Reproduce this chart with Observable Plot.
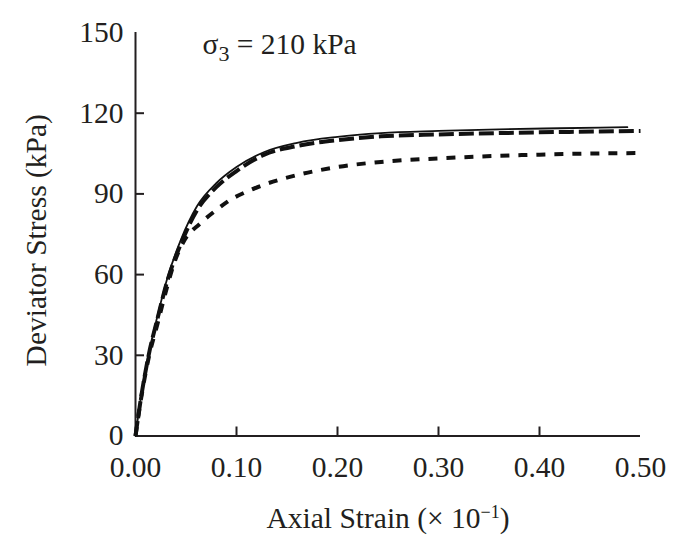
<!DOCTYPE html>
<html><head><meta charset="utf-8">
<script src="https://cdn.jsdelivr.net/npm/d3@7"></script>
<script src="https://cdn.jsdelivr.net/npm/@observablehq/plot@0.6"></script>
<style>body{margin:0;background:#fff}</style>
</head><body><div id="chart"></div>
<script>
// ---- data ----
const xTicks = [0, 0.1, 0.2, 0.3, 0.4, 0.5];
const yTicks = [0, 30, 60, 90, 120, 150];

const solidStrain = [0, 0.006, 0.013, 0.022, 0.031, 0.045, 0.061, 0.08, 0.1, 0.127, 0.16, 0.2, 0.243, 0.3, 0.36, 0.42, 0.487];
const solidStress = [0, 16, 30.5, 45, 58, 73, 85.5, 94, 100, 105.5, 109, 111.2, 112.6, 113.4, 114, 114.4, 114.8];

const longDashStrain = [0, 0.006, 0.013, 0.022, 0.031, 0.045, 0.061, 0.08, 0.1, 0.127, 0.16, 0.2, 0.243, 0.3, 0.36, 0.42, 0.5];
const longDashStress = [0, 15.5, 30, 44, 57, 71.5, 84, 92.5, 98.5, 104.5, 107.8, 110, 111.4, 112.1, 112.6, 113, 113.4];

const shortDashStrain = [0, 0.006, 0.013, 0.022, 0.031, 0.038, 0.048, 0.064, 0.08, 0.094, 0.11, 0.127, 0.16, 0.2, 0.243, 0.3, 0.342, 0.4, 0.45, 0.5];
const shortDashStress = [0, 15, 29, 42, 55, 64, 72.5, 79, 84, 87.8, 90.8, 93.4, 97, 100, 101.9, 103.2, 103.9, 104.6, 105, 105.2];

const xLabel = "Axial Strain (× 10", xLabelSup = "−1", xLabelEnd = ")";
const yLabel = "Deviator Stress (kPa)";
const annotSymbol = "σ", annotSub = "3", annotRest = " = 210 kPa";

// ---- build ----
const toRows = (xs, ys) => xs.map((x, i) => ({x, y: ys[i]}));
const solid = toRows(solidStrain, solidStress);
const longDash = toRows(longDashStrain, longDashStress);
const shortDash = toRows(shortDashStrain, shortDashStress);

const ink = "#231f20";
const FS = 29.5;
const W = 677, H = 549, mL = 135, mR = 37, mT = 32, mB = 113.5;
const frameW = W - mL - mR, frameH = H - mT - mB;

const plot = Plot.plot({
  width: W, height: H,
  marginLeft: mL, marginRight: mR, marginTop: mT, marginBottom: mB,
  style: {fontFamily: "'Liberation Serif', 'Times New Roman', serif", fontSize: FS + "px", color: ink, background: "white"},
  x: {domain: [0, 0.5]},
  y: {domain: [0, 150]},
  marks: [
    Plot.axisX(xTicks, {tickSize: 0, tickPadding: 20, tickFormat: d3.format(".2f"), label: null, fontSize: FS, fill: ink}),
    Plot.axisY(yTicks, {tickSize: 0, tickPadding: 12, label: null, fontSize: FS, fill: ink}),
    Plot.tickX(xTicks.slice(1, -1), {x: d => d, insetTop: frameH - 9, stroke: ink, strokeWidth: 2}),
    Plot.tickY(yTicks.slice(1, -1), {y: d => d, insetRight: frameW - 9, stroke: ink, strokeWidth: 2}),
    Plot.ruleX([0], {stroke: ink, strokeWidth: 2}),
    Plot.ruleY([0], {stroke: ink, strokeWidth: 2}),
    Plot.line(shortDash, {x: "x", y: "y", curve: "monotone-x", stroke: "#111", strokeWidth: 4, strokeDasharray: "9,9", strokeLinecap: "butt"}),
    Plot.line(longDash, {x: "x", y: "y", curve: "monotone-x", stroke: "#111", strokeWidth: 4, strokeDasharray: "15,5", strokeLinecap: "butt"}),
    Plot.line(solid, {x: "x", y: "y", curve: "monotone-x", stroke: "#111", strokeWidth: 1.8}),
    Plot.text([annotSymbol + annotSub + annotRest], {text: d => d, frameAnchor: "top-left", dx: 67, dy: 21, lineAnchor: "bottom", textAnchor: "start", fontSize: FS, fill: ink}),
    Plot.text([xLabel + xLabelSup + xLabelEnd], {text: d => d, frameAnchor: "bottom", dy: 92, lineAnchor: "bottom", textAnchor: "middle", fontSize: FS, fill: ink}),
    Plot.text([yLabel], {text: d => d, frameAnchor: "left", dx: -99, dy: 6, rotate: -90, lineAnchor: "middle", textAnchor: "middle", fontSize: FS, fill: ink})
  ]
});
document.getElementById("chart").appendChild(plot);

// rich text: subscripts / superscripts
const NS = "http://www.w3.org/2000/svg";
function rich(el, parts) {
  while (el.firstChild) el.removeChild(el.firstChild);
  for (const p of parts) {
    const t = document.createElementNS(NS, "tspan");
    t.textContent = p.text;
    if (p.dy) t.setAttribute("dy", p.dy);
    if (p.size) t.setAttribute("font-size", p.size);
    el.appendChild(t);
  }
}
plot.querySelectorAll("text").forEach(el => {
  const s = el.textContent;
  if (s === annotSymbol + annotSub + annotRest) {
    rich(el, [{text: annotSymbol}, {text: annotSub, dy: 7, size: 22}, {text: annotRest, dy: -7}]);
  } else if (s === xLabel + xLabelSup + xLabelEnd) {
    rich(el, [{text: xLabel}, {text: xLabelSup, dy: -10, size: 18}, {text: xLabelEnd, dy: 10}]);
  }
});
</script>
</body></html>
